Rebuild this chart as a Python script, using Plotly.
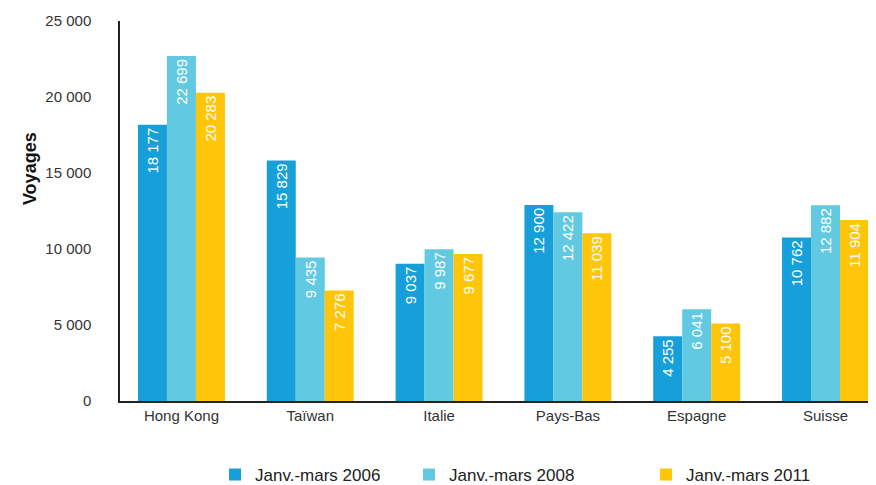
import plotly.graph_objects as go

categories = ["Hong Kong", "Taïwan", "Italie", "Pays-Bas", "Espagne", "Suisse"]
series_names = ["Janv.-mars 2006", "Janv.-mars 2008", "Janv.-mars 2011"]
v2006 = [18177, 15829, 9037, 12900, 4255, 10762]
v2008 = [22699, 9435, 9987, 12422, 6041, 12882]
v2011 = [20283, 7276, 9677, 11039, 5100, 11904]
colors = ["#179fd9", "#62c9e3", "#ffc508"]
y_ticks = [0, 5000, 10000, 15000, 20000, 25000]
y_tick_labels = ["0", "5 000", "10 000", "15 000", "20 000", "25 000"]
y_title = "Voyages"


def fmt(v):
    return f"{v:,}".replace(",", " ")


fig = go.Figure()
legends = ["legend", "legend2", "legend3"]
for name, vals, col, lg in zip(series_names, [v2006, v2008, v2011], colors, legends):
    fig.add_trace(go.Bar(
        x=categories, y=vals, name=name, marker=dict(color=col, line=dict(width=0)),
        text=[fmt(v) for v in vals], textposition="inside", insidetextanchor="end",
        textangle=-90, textfont=dict(color="white", size=15, family="Liberation Sans"),
        legend=lg, showlegend=True,
    ))

font = dict(family="Liberation Sans", size=15, color="#333333")
leg_common = dict(orientation="h", xanchor="left", yanchor="middle",
                  xref="container", yref="container", y=0.021,
                  font=dict(family="Liberation Sans", size=17, color="#222222"),
                  bgcolor="rgba(0,0,0,0)", itemwidth=30, visible=True)
fig.update_layout(
    width=868, height=477,
    margin=dict(l=112, r=0, t=13, b=84, autoexpand=False),
    paper_bgcolor="white", plot_bgcolor="white",
    font=font, showlegend=True,
    barmode="group", bargap=0.325, bargroupgap=0,
    uniformtext=dict(minsize=15, mode="show"),
    xaxis=dict(range=[-0.477, 5.392], showline=True, linecolor="#222222", linewidth=2,
               showgrid=False, ticks="", automargin=False,
               tickfont=dict(size=15, color="#333333")),
    yaxis=dict(range=[0, 25000], tickvals=y_ticks, ticktext=y_tick_labels,
               showline=True, linecolor="#222222", linewidth=1.5, showgrid=False,
               zeroline=False, ticks="", ticklabelstandoff=24, automargin=False,
               tickfont=dict(size=15, color="#333333")),
    annotations=[dict(text=f"<b>{y_title}</b>", textangle=-90, xref="paper", yref="paper",
                      x=-0.119, y=0.6105, xanchor="center", yanchor="middle", showarrow=False,
                      font=dict(size=18, color="#111111", family="Liberation Sans"))],
    legend=dict(x=0.2385, **leg_common),
    legend2=dict(x=0.4620, **leg_common),
    legend3=dict(x=0.7351, **leg_common),
)

fig.write_html("out.html")
